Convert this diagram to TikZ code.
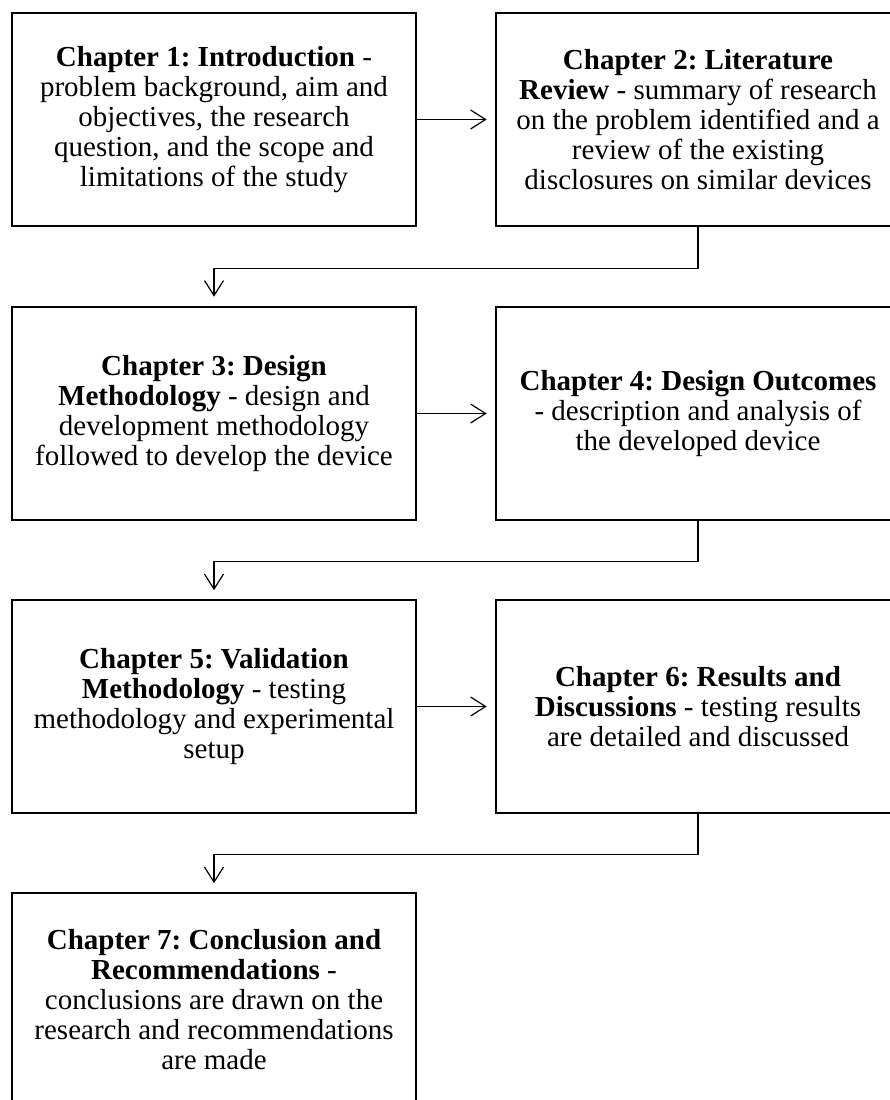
\documentclass[tikz,border=0pt]{standalone}
\usepackage{fontspec}
\setmainfont{Liberation Serif}
\usetikzlibrary{arrows.meta}
\frenchspacing

\begin{document}
\begin{tikzpicture}[x=1bp,y=-1bp,
  chapbox/.style={draw=black, line width=2.6bp, fill=white,
    minimum width=404bp, minimum height=213bp, inner sep=0pt,
    align=center, font=\fontsize{29bp}{29.8bp}\selectfont},
  link/.style={draw=black, line width=1.2bp,
    -{Straight Barb[length=15bp, width=19bp, line width=1.2bp]}}
]
\useasboundingbox (0,0) rectangle (890,1100);
\clip (0,0) rectangle (890,1100);

% chapter boxes, two columns
\node[chapbox] (c1) at (214,119.5) {\textbf{Chapter 1: Introduction} -\\problem background, aim and\\objectives, the research\\question, and the scope and\\limitations of the study};
\node[chapbox] (c2) at (698,119.5) {\textbf{Chapter 2: Literature}\\\textbf{Review} - summary of research\\on the problem identified and a\\review of the existing\\disclosures on similar devices};
\node[chapbox] (c3) at (214,413.5) {\textbf{Chapter 3: Design}\\\textbf{Methodology} - design and\\development methodology\\followed to develop the device};
\node[chapbox] (c4) at (698,413.5) {\textbf{Chapter 4: Design Outcomes}\\- description and analysis of\\the developed device};
\node[chapbox] (c5) at (214,706.5) {\textbf{Chapter 5: Validation}\\\textbf{Methodology} - testing\\methodology and experimental\\setup};
\node[chapbox] (c6) at (698,706.5) {\textbf{Chapter 6: Results and}\\\textbf{Discussions} - testing results\\are detailed and discussed};
\node[chapbox] (c7) at (214,999.5) {\textbf{Chapter 7: Conclusion and}\\\textbf{Recommendations} -\\conclusions are drawn on the\\research and recommendations\\are made};

% left-to-right links within a row
\draw[link, shorten >=8bp] (c1.east) -- (c2.west);
\draw[link, shorten >=8bp] (c3.east) -- (c4.west);
\draw[link, shorten >=8bp] (c5.east) -- (c6.west);

% links from the end of a row to the start of the next
\draw[link, shorten >=9bp] (c2.south) -- ++(0,41) -| (c3.north);
\draw[link, shorten >=8.5bp] (c4.south) -- ++(0,40) -| (c5.north);
\draw[link, shorten >=8.5bp] (c6.south) -- ++(0,40) -| (c7.north);
\end{tikzpicture}
\end{document}
